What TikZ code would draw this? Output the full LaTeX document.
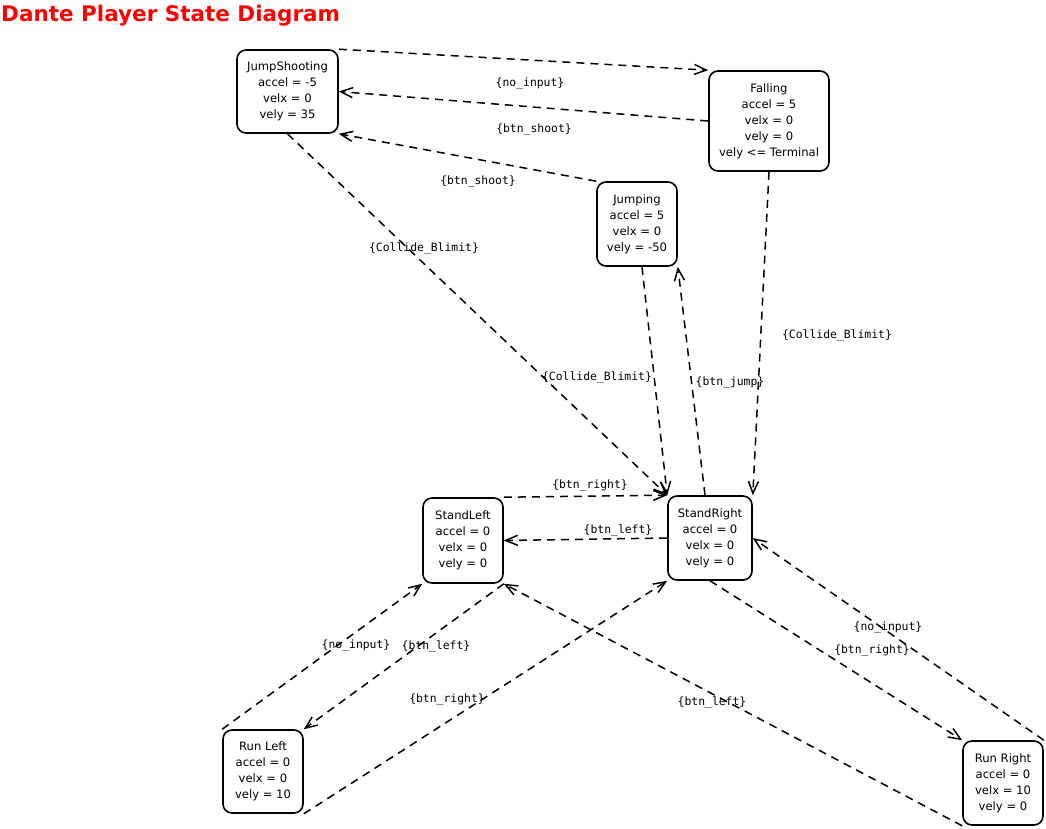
\documentclass[tikz,border=0pt]{standalone}
\usepackage{fontspec}
\setmainfont{DejaVu Sans}
\setmonofont{DejaVu Sans Mono}
\usetikzlibrary{arrows.meta}
\begin{document}
\begin{tikzpicture}[x=1pt,y=-1pt,
  state/.style={draw, line width=1.6pt, rounded corners=9pt, align=center, inner sep=0pt,
    font=\fontsize{11.6}{16}\selectfont},
  trans/.style={draw, line width=1.5pt, dash pattern=on 8pt off 6pt,
    -{Straight Barb[length=12pt,width=10pt]}},
  lbl/.style={font=\fontsize{11.4}{14}\selectfont\ttfamily, inner sep=1pt},
  ttl/.style={anchor=base west, inner sep=0pt, text=red, font=\fontsize{21.5}{24}\selectfont\bfseries}]
\useasboundingbox (0,0) rectangle (1046,828);

\node[ttl] (title) at (1,21) {Dante Player State Diagram};

\node[state, minimum width=101pt, minimum height=83pt] (js) at (287.5,91.5) {JumpShooting\\accel = -5\\velx = 0\\vely = 35};
\node[state, minimum width=120pt, minimum height=100pt] (fall) at (769,121) {Falling\\accel = 5\\velx = 0\\vely = 0\\vely <= Terminal};
\node[state, minimum width=80pt, minimum height=84pt] (jump) at (637,224) {Jumping\\accel = 5\\velx = 0\\vely = -50};
\node[state, minimum width=80pt, minimum height=85pt] (sl) at (463,540.5) {StandLeft\\accel = 0\\velx = 0\\vely = 0};
\node[state, minimum width=84pt, minimum height=84pt] (sr) at (710,538) {StandRight\\accel = 0\\velx = 0\\vely = 0};
\node[state, minimum width=80pt, minimum height=83pt] (rl) at (263,771.5) {Run Left\\accel = 0\\velx = 0\\vely = 10};
\node[state, minimum width=80pt, minimum height=84pt] (rr) at (1003,783) {Run Right\\accel = 0\\velx = 10\\vely = 0};

\draw[trans] (js.north east) -- (fall.north west);
\draw[trans] (fall.west) -- (js.east);
\draw[trans] (jump.north west) -- (js.south east);
\draw[trans] (js.south) -- (sr.north west);
\draw[trans] ([xshift=5pt]jump.south) -- (sr.north west);
\draw[trans] ([xshift=-5pt]sr.north) -- (jump.south east);
\draw[trans] (fall.south) -- (sr.north east);
\draw[trans] (sl.north east) -- (sr.north west);
\draw[trans] (sr.west) -- (sl.east);
\draw[trans] (rl.north west) -- (sl.south west);
\draw[trans] (sl.south east) -- (rl.north east);
\draw[trans] (rl.south east) -- (sr.south west);
\draw[trans] (rr.south west) -- (sl.south east);
\draw[trans] (sr.south) -- (rr.north west);
\draw[trans] (rr.north east) -- (sr.east);

\node[lbl] (l1) at (530,84) {\{no\_input\}};
\node[lbl] (l2) at (534,130) {\{btn\_shoot\}};
\node[lbl] (l3) at (478,182) {\{btn\_shoot\}};
\node[lbl] (l4) at (424,248) {\{Collide\_Blimit\}};
\node[lbl] (l5) at (597,377) {\{Collide\_Blimit\}};
\node[lbl] (l6) at (730,383) {\{btn\_jump\}};
\node[lbl] (l7) at (837,335) {\{Collide\_Blimit\}};
\node[lbl] (l8) at (590,486) {\{btn\_right\}};
\node[lbl] (l9) at (618,530) {\{btn\_left\}};
\node[lbl] (l10) at (356,646) {\{no\_input\}};
\node[lbl] (l11) at (436,646) {\{btn\_left\}};
\node[lbl] (l12) at (447,700) {\{btn\_right\}};
\node[lbl] (l13) at (712,702) {\{btn\_left\}};
\node[lbl] (l14) at (872,651) {\{btn\_right\}};
\node[lbl] (l15) at (888,628) {\{no\_input\}};
\end{tikzpicture}
\end{document}
